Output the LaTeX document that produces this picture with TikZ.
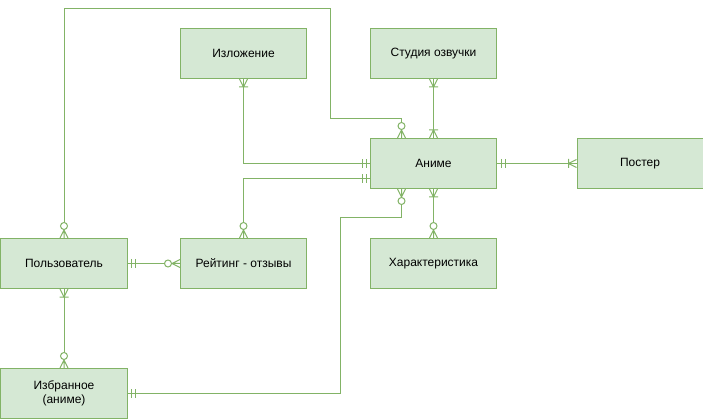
\documentclass[tikz,border=0pt]{standalone}
\usepackage{fontspec}
\setmainfont{Liberation Sans}
\usetikzlibrary{calc}

\definecolor{boxfill}{HTML}{D5E8D4}
\definecolor{boxline}{HTML}{82B366}

% ER end marks
\pgfdeclarearrow{
  name = ermandone,
  setup code = {
    \pgfarrowssettipend{0pt}
    \pgfarrowssetlineend{0pt}
    \pgfarrowssetbackend{-9pt}
  },
  drawing code = {
    \pgfsetdash{}{0pt}
    \pgfpathmoveto{\pgfqpoint{-4pt}{-4.5pt}}
    \pgfpathlineto{\pgfqpoint{-4pt}{4.5pt}}
    \pgfpathmoveto{\pgfqpoint{-8pt}{-4.5pt}}
    \pgfpathlineto{\pgfqpoint{-8pt}{4.5pt}}
    \pgfusepathqstroke
  }
}
\pgfdeclarearrow{
  name = eronemany,
  setup code = {
    \pgfarrowssettipend{0pt}
    \pgfarrowssetlineend{0pt}
    \pgfarrowssetbackend{-9pt}
  },
  drawing code = {
    \pgfsetdash{}{0pt}
    \pgfpathmoveto{\pgfqpoint{0pt}{4pt}}
    \pgfpathlineto{\pgfqpoint{-8pt}{0pt}}
    \pgfpathlineto{\pgfqpoint{0pt}{-4pt}}
    \pgfpathmoveto{\pgfqpoint{-8pt}{-4.5pt}}
    \pgfpathlineto{\pgfqpoint{-8pt}{4.5pt}}
    \pgfusepathqstroke
  }
}
\pgfdeclarearrow{
  name = erzeromany,
  setup code = {
    \pgfarrowssettipend{0pt}
    \pgfarrowssetlineend{-15pt}
    \pgfarrowssetbackend{-15.5pt}
  },
  drawing code = {
    \pgfsetdash{}{0pt}
    \pgfpathmoveto{\pgfqpoint{0pt}{4pt}}
    \pgfpathlineto{\pgfqpoint{-8pt}{0pt}}
    \pgfpathlineto{\pgfqpoint{0pt}{-4pt}}
    \pgfpathmoveto{\pgfqpoint{-8.5pt}{0pt}}
    \pgfpathlineto{\pgfqpoint{0pt}{0pt}}
    \pgfusepathqstroke
    \pgfsetfillcolor{white}
    \pgfpathcircle{\pgfqpoint{-12pt}{0pt}}{3.5pt}
    \pgfusepathqfillstroke
  }
}

\begin{document}
\begin{tikzpicture}[x=1pt, y=-1pt,
        entity/.style = {shape=rectangle, draw=boxline, fill=boxfill,
        line width=1pt, minimum width=126pt, minimum height=50pt,
        align=center, font=\fontsize{12}{14}\selectfont},
        rel/.style = {draw=boxline, line width=1pt}]

    \useasboundingbox (-0.5,-0.5) rectangle (702.5,418.5);

    \node[entity] (izl) at (243,53) {Изложение};
    \node[entity] (studio) at (433,53) {Студия озвучки};
    \node[entity] (anime) at (433,163) {Аниме};
    \node[entity] (poster) at (639.5,163) {Постер};
    \node[entity] (user) at (63.5,263) {Пользователь};
    \node[entity] (rating) at (243,263) {Рейтинг - отзывы};
    \node[entity] (charac) at (433,263) {Характеристика};
    \node[entity] (fav) at (63.5,393) {Избранное\\(аниме)};

    \draw[rel, eronemany-ermandone] (izl.south) |- (anime.west);
    \draw[rel, erzeromany-ermandone] (rating.north) |- ($(anime.west)+(0,15)$);
    \draw[rel, eronemany-eronemany] (studio.south) -- (anime.north);
    \draw[rel, ermandone-eronemany] (anime.east) -- (poster.west);
    \draw[rel, eronemany-erzeromany] (anime.south) -- (charac.north);
    \draw[rel, erzeromany-erzeromany] (user.north) |- (330,8) -- (330,118)
        -| ($(anime.north)+(-32,0)$);
    \draw[rel, erzeromany-ermandone] ($(anime.south)+(-32,0)$) |- (340,217)
        |- (fav.east);
    \draw[rel, ermandone-erzeromany] (user.east) -- (rating.west);
    \draw[rel, eronemany-erzeromany] (user.south) -- (fav.north);
\end{tikzpicture}
\end{document}
